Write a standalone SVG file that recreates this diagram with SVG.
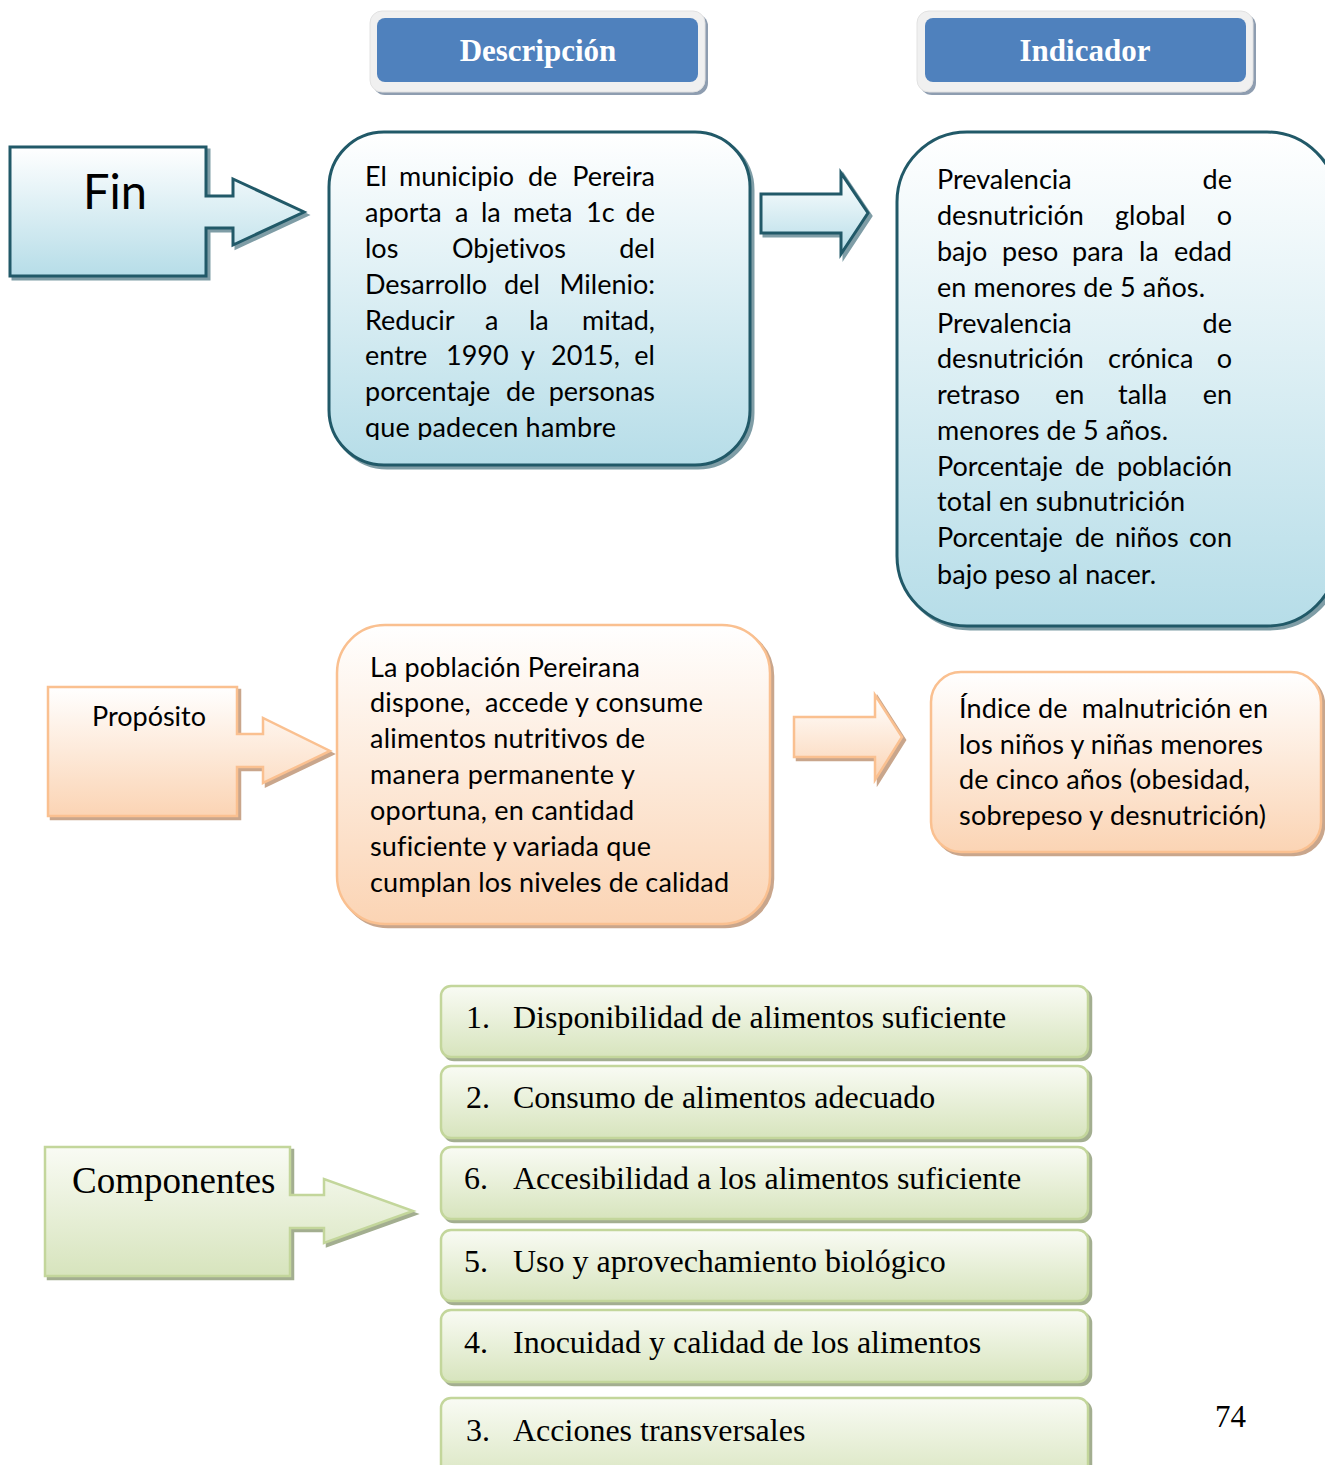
<svg xmlns="http://www.w3.org/2000/svg" xmlns:xlink="http://www.w3.org/1999/xlink" width="1325" height="1465" viewBox="0 0 1325 1465">
  <style>
    .body { font-family: Lato, "Liberation Sans", sans-serif; font-size: 27px; fill: #000; font-variant-ligatures: none; }
    .pre { white-space: pre; }
    .serif { font-family: "Liberation Serif", "Times New Roman", serif; fill: #000; font-variant-ligatures: none; }
    .head { font-family: "Liberation Serif", "Times New Roman", serif; font-weight: bold; font-size: 31px; fill: #fff; text-anchor: middle; }
    .end { text-anchor: end; }
    .blue { fill: url(#gBlue); stroke: #215968; stroke-width: 3; }
    .blue-sh { fill: #7f9da6; stroke: #7f9da6; stroke-width: 3; }
    .orange { fill: url(#gOrange); stroke: #fac090; stroke-width: 2.5; }
    .orange-sh { fill: #c9a68c; stroke: #c9a68c; stroke-width: 2.5; }
    .green { fill: url(#gGreen); stroke: #c3d69b; stroke-width: 2.5; }
    .green-sh { fill: #a3ae90; stroke: #a3ae90; stroke-width: 2.5; }
  </style>
  <defs>
    <linearGradient id="gBlue" x1="0" y1="0" x2="0" y2="1">
      <stop offset="0" stop-color="#ffffff"/>
      <stop offset="1" stop-color="#b6dde8"/>
    </linearGradient>
    <linearGradient id="gOrange" x1="0" y1="0" x2="0" y2="1">
      <stop offset="0" stop-color="#ffffff"/>
      <stop offset="1" stop-color="#fbd4b4"/>
    </linearGradient>
    <linearGradient id="gGreen" x1="0" y1="0" x2="0" y2="1">
      <stop offset="0" stop-color="#f9fbf4"/>
      <stop offset="1" stop-color="#d7e4bd"/>
    </linearGradient>
    <!-- shape outlines, drawn twice: once as shadow, once as face -->
    <path id="sFin" d="M10,147 H206 V196 H233 V179 L304,212 L233,245 V228 H206 V276 H10 Z"/>
    <path id="sProp" d="M48,687 H237 V734 H263 V718 L330,751 L263,783 V767 H237 V816 H48 Z"/>
    <path id="sComp" d="M45,1147 H290 V1195 H324 V1179 L413,1211 L324,1243 V1228 H290 V1276 H45 Z"/>
    <path id="aBlue" d="M761,194 H841 V173 L868,213 L841,254 V233 H761 Z"/>
    <path id="aOrange" d="M794,717 H875 V695 L902,737 L875,780 V757 H794 Z"/>
    <rect id="rDesc" x="329" y="132" width="421" height="333" rx="55"/>
    <rect id="rInd" x="897" y="132" width="440" height="494" rx="70"/>
    <rect id="rPropD" x="337" y="625" width="433" height="299" rx="48"/>
    <rect id="rPropI" x="931" y="672" width="390" height="180" rx="30"/>
    <rect id="c1" x="441" y="986" width="647" height="71" rx="10"/>
    <rect id="c2" x="441" y="1066" width="647" height="72" rx="10"/>
    <rect id="c3" x="441" y="1147" width="647" height="72" rx="10"/>
    <rect id="c4" x="441" y="1230" width="647" height="71" rx="10"/>
    <rect id="c5" x="441" y="1310" width="647" height="72" rx="10"/>
    <rect id="c6" x="441" y="1398" width="647" height="90" rx="10"/>
    <clipPath id="clipDesc">
      <rect x="330" y="150" width="420" height="290"/>
    </clipPath>
  </defs>

  <!-- column headers -->
  <g id="header-descripcion">
    <rect x="373" y="14" width="335" height="81" rx="12" fill="#8e9db0"/>
    <rect x="370" y="11" width="335" height="81" rx="12" fill="#f0f0f0" stroke="#e2e2e2" stroke-width="1"/>
    <rect x="377" y="18" width="321" height="64" rx="8" fill="#4f81bd"/>
    <text class="head" x="538" y="61">Descripción</text>
  </g>
  <g id="header-indicador">
    <rect x="920" y="14" width="336" height="81" rx="12" fill="#8e9db0"/>
    <rect x="917" y="11" width="336" height="81" rx="12" fill="#f0f0f0" stroke="#e2e2e2" stroke-width="1"/>
    <rect x="925" y="18" width="321" height="64" rx="8" fill="#4f81bd"/>
    <text class="head" x="1085" y="61">Indicador</text>
  </g>

  <!-- connectors -->
  <g id="connectors">
    <use href="#aBlue" class="blue-sh" transform="translate(3,3)"/>
    <use href="#aBlue" class="blue"/>
    <use href="#aOrange" class="orange-sh" transform="translate(3,3)"/>
    <use href="#aOrange" class="orange"/>
  </g>

  <!-- Fin row -->
  <g id="node-fin">
    <use href="#sFin" class="blue-sh" transform="translate(3,3)"/>
    <use href="#sFin" class="blue"/>
    <text class="body" x="83" y="209" style="font-size:49px" textLength="64" lengthAdjust="spacingAndGlyphs">Fin</text>
  </g>

  <g id="node-fin-descripcion">
    <use href="#rDesc" class="blue-sh" transform="translate(3,3)"/>
    <use href="#rDesc" class="blue"/>
    <g class="body" clip-path="url(#clipDesc)">
      <text x="365" y="186">El</text><text x="399" y="186">municipio</text><text x="528" y="186">de</text><text class="end" x="655" y="186">Pereira</text>
      <text x="365" y="222">aporta</text><text x="455" y="222">a</text><text x="481" y="222">la</text><text x="513" y="222">meta</text><text x="586" y="222">1c</text><text class="end" x="655" y="222">de</text>
      <text x="365" y="258">los</text><text x="452" y="258">Objetivos</text><text class="end" x="655" y="258">del</text>
      <text x="365" y="294">Desarrollo</text><text x="504" y="294">del</text><text class="end" x="655" y="294">Milenio:</text>
      <text x="365" y="330">Reducir</text><text x="485" y="330">a</text><text x="529" y="330">la</text><text class="end" x="655" y="330">mitad,</text>
      <text x="365" y="365">entre</text><text x="446" y="365">1990</text><text x="521" y="365">y</text><text x="551" y="365">2015,</text><text class="end" x="655" y="365">el</text>
      <text x="365" y="401">porcentaje</text><text x="506" y="401">de</text><text class="end" x="655" y="401">personas</text>
      <text x="365" y="437" textLength="251" lengthAdjust="spacing">que padecen hambre</text>
    </g>
  </g>

  <g id="node-fin-indicador">
    <use href="#rInd" class="blue-sh" transform="translate(3,3)"/>
    <use href="#rInd" class="blue"/>
    <g class="body">
      <text x="937" y="189">Prevalencia</text><text class="end" x="1232" y="189">de</text>
      <text x="937" y="225">desnutrición</text><text x="1115" y="225">global</text><text class="end" x="1232" y="225">o</text>
      <text x="937" y="261">bajo</text><text x="1002" y="261">peso</text><text x="1072" y="261">para</text><text x="1139" y="261">la</text><text class="end" x="1232" y="261">edad</text>
      <text x="937" y="297" textLength="268" lengthAdjust="spacing">en menores de 5 años.</text>
      <text x="937" y="333">Prevalencia</text><text class="end" x="1232" y="333">de</text>
      <text x="937" y="368">desnutrición</text><text x="1108" y="368">crónica</text><text class="end" x="1232" y="368">o</text>
      <text x="937" y="404">retraso</text><text x="1055" y="404">en</text><text x="1118" y="404">talla</text><text class="end" x="1232" y="404">en</text>
      <text x="937" y="440" textLength="231" lengthAdjust="spacing">menores de 5 años.</text>
      <text x="937" y="476">Porcentaje</text><text x="1075" y="476">de</text><text class="end" x="1232" y="476">población</text>
      <text x="937" y="511" textLength="248" lengthAdjust="spacing">total en subnutrición</text>
      <text x="937" y="547">Porcentaje</text><text x="1075" y="547">de</text><text x="1115" y="547">niños</text><text class="end" x="1232" y="547">con</text>
      <text x="937" y="584" textLength="219" lengthAdjust="spacing">bajo peso al nacer.</text>
    </g>
  </g>

  <!-- Propósito row -->
  <g id="node-proposito">
    <use href="#sProp" class="orange-sh" transform="translate(3,3)"/>
    <use href="#sProp" class="orange"/>
    <text class="body" x="92" y="726" textLength="114" lengthAdjust="spacing">Propósito</text>
  </g>

  <g id="node-proposito-descripcion">
    <use href="#rPropD" class="orange-sh" transform="translate(3,3)"/>
    <use href="#rPropD" class="orange"/>
    <g class="body">
      <text x="370" y="677" textLength="270" lengthAdjust="spacing">La población Pereirana</text>
      <text class="pre" x="370" y="712" textLength="333" lengthAdjust="spacing">dispone,  accede y consume</text>
      <text x="370" y="748" textLength="275" lengthAdjust="spacing">alimentos nutritivos de</text>
      <text x="370" y="784" textLength="265" lengthAdjust="spacing">manera permanente y</text>
      <text x="370" y="820" textLength="264" lengthAdjust="spacing">oportuna, en cantidad</text>
      <text x="370" y="856" textLength="281" lengthAdjust="spacing">suficiente y variada que</text>
      <text x="370" y="892" textLength="359" lengthAdjust="spacing">cumplan los niveles de calidad</text>
    </g>
  </g>

  <g id="node-proposito-indicador">
    <use href="#rPropI" class="orange-sh" transform="translate(3,3)"/>
    <use href="#rPropI" class="orange"/>
    <g class="body">
      <text class="pre" x="959" y="718" textLength="309" lengthAdjust="spacing">Índice de  malnutrición en</text>
      <text x="959" y="754" textLength="304" lengthAdjust="spacing">los niños y niñas menores</text>
      <text x="959" y="789" textLength="291" lengthAdjust="spacing">de cinco años (obesidad,</text>
      <text x="959" y="825" textLength="307" lengthAdjust="spacing">sobrepeso y desnutrición)</text>
    </g>
  </g>

  <!-- Componentes row -->
  <g id="node-componentes">
    <use href="#sComp" class="green-sh" transform="translate(3,3)"/>
    <use href="#sComp" class="green"/>
    <text class="serif" x="72" y="1193" style="font-size:37px">Componentes</text>
  </g>

  <g id="node-componente-1">
    <use href="#c1" class="green-sh" transform="translate(3,3)"/>
    <use href="#c1" class="green"/>
    <text class="serif" x="466" y="1028" style="font-size:32px">1.</text>
    <text class="serif" x="513" y="1028" style="font-size:32px">Disponibilidad de alimentos suficiente</text>
  </g>
  <g id="node-componente-2">
    <use href="#c2" class="green-sh" transform="translate(3,3)"/>
    <use href="#c2" class="green"/>
    <text class="serif" x="466" y="1108" style="font-size:32px">2.</text>
    <text class="serif" x="513" y="1108" style="font-size:32px">Consumo de alimentos adecuado</text>
  </g>
  <g id="node-componente-6">
    <use href="#c3" class="green-sh" transform="translate(3,3)"/>
    <use href="#c3" class="green"/>
    <text class="serif" x="464" y="1189" style="font-size:32px">6.</text>
    <text class="serif" x="513" y="1189" style="font-size:32px">Accesibilidad a los alimentos suficiente</text>
  </g>
  <g id="node-componente-5">
    <use href="#c4" class="green-sh" transform="translate(3,3)"/>
    <use href="#c4" class="green"/>
    <text class="serif" x="464" y="1272" style="font-size:32px">5.</text>
    <text class="serif" x="513" y="1272" style="font-size:32px">Uso y aprovechamiento biológico</text>
  </g>
  <g id="node-componente-4">
    <use href="#c5" class="green-sh" transform="translate(3,3)"/>
    <use href="#c5" class="green"/>
    <text class="serif" x="464" y="1353" style="font-size:32px">4.</text>
    <text class="serif" x="513" y="1353" style="font-size:32px">Inocuidad y calidad de los alimentos</text>
  </g>
  <g id="node-componente-3">
    <use href="#c6" class="green-sh" transform="translate(3,3)"/>
    <use href="#c6" class="green"/>
    <text class="serif" x="466" y="1441" style="font-size:32px">3.</text>
    <text class="serif" x="513" y="1441" style="font-size:32px">Acciones transversales</text>
  </g>

  <!-- page number -->
  <text class="serif" x="1215" y="1427" style="font-size:31px">74</text>
</svg>
